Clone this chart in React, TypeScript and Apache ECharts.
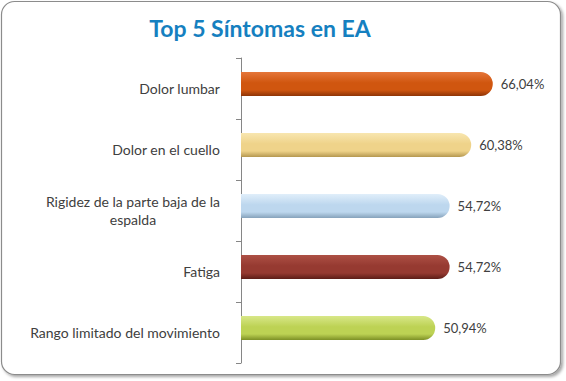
import React, { useEffect, useRef } from 'react';
import * as echarts from 'echarts';

const titleText = 'Top 5 Síntomas en EA';
const categories = [
  'Dolor lumbar',
  'Dolor en el cuello',
  'Rigidez de la parte baja de la\nespalda',
  'Fatiga',
  'Rango limitado del movimiento',
];
const values = [66.04, 60.38, 54.72, 54.72, 50.94];
const valueLabels = ['66,04%', '60,38%', '54,72%', '54,72%', '50,94%'];
const spacerValues = [0, 0, 0, 0, 0];
const barColors = [
  ['#E5763A', '#D0560F', '#8E3406'],
  ['#F8E6B0', '#EFD38A', '#B59850'],
  ['#E0EEFA', '#BDD7EE', '#86A2BB'],
  ['#AD5045', '#963A31', '#5C1D17'],
  ['#D8E788', '#BDD254', '#7D9026'],
];

export default function App() {
  const ref = useRef<HTMLDivElement>(null);
  useEffect(() => {
    if (!ref.current) return;
    const chart = echarts.init(ref.current, null, { renderer: 'svg' });
    const font = 'Lato';
    chart.setOption({
      animation: false,
      backgroundColor: 'transparent',
      graphic: [
        {
          type: 'rect',
          z: 0,
          shape: { x: 1.5, y: 1.5, width: 559, height: 373, r: 13 },
          style: {
            fill: '#ffffff',
            stroke: '#8c8c8c',
            lineWidth: 1.2,
            shadowBlur: 3,
            shadowOffsetX: 2,
            shadowOffsetY: 2,
            shadowColor: 'rgba(0,0,0,0.35)',
          },
        },
        {
          type: 'text',
          z: 5,
          x: 260,
          y: 28,
          style: {
            text: titleText,
            align: 'center',
            verticalAlign: 'middle',
            fill: '#1580C0',
            font: `bold 23px ${font}`,
          },
        },
      ],
      grid: { left: 233, right: 20, top: 58, bottom: 18, containLabel: false },
      xAxis: {
        type: 'value',
        min: -2.1,
        max: 80,
        show: false,
      },
      yAxis: {
        type: 'category',
        inverse: true,
        data: categories,
        axisLine: { show: true, lineStyle: { color: '#868686', width: 1 } },
        axisTick: { show: true, length: 5, lineStyle: { color: '#868686' } },
        axisLabel: {
          margin: 13,
          color: '#404040',
          fontFamily: font,
          fontSize: 14,
          lineHeight: 18,
          formatter: (v: string) =>
            v
              .split('\n')
              .map((s) => `{c|${s}}`)
              .join('\n'),
          rich: {
            c: { align: 'center', color: '#404040', fontFamily: font, fontSize: 14, lineHeight: 18 },
          },
        },
        splitLine: { show: false },
      },
      series: [
        {
          type: 'bar',
          barWidth: 24,
          barGap: '0%',
          data: values.map((v, i) => ({
            value: v,
            itemStyle: {
              borderRadius: [0, 12, 12, 0],
              color: new echarts.graphic.LinearGradient(0, 0, 0, 1, [
                { offset: 0, color: barColors[i][0] },
                { offset: 0.45, color: barColors[i][1] },
                { offset: 0.75, color: barColors[i][1] },
                { offset: 1, color: barColors[i][2] },
              ]),
            },
          })),
          label: {
            show: true,
            position: 'right',
            distance: 8,
            color: '#404040',
            fontFamily: font,
            fontSize: 13,
            formatter: (p: any) => valueLabels[p.dataIndex],
          },
        },
        {
          type: 'bar',
          barWidth: 9,
          barGap: '0%',
          silent: true,
          itemStyle: { color: 'transparent' },
          data: spacerValues,
        },
      ],
    });
    return () => chart.dispose();
  }, []);
  return (
    <div
      ref={ref}
      style={{ position: 'fixed', left: 0, top: 0, width: 566, height: 381, background: '#ffffff' }}
    />
  );
}
